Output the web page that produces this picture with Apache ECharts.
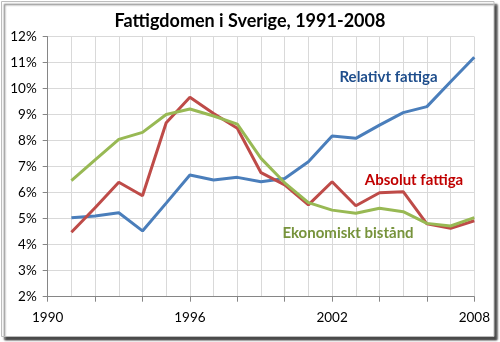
<!DOCTYPE html>
<html>
<head>
<meta charset="utf-8">
<script src="https://cdn.jsdelivr.net/npm/echarts@6/dist/echarts.min.js"></script>
<style>
html,body{margin:0;padding:0;background:#fff;}
#c{width:500px;height:342px;}
</style>
</head>
<body>
<div id="c"></div>
<script>
const years = [1991,1992,1993,1994,1995,1996,1997,1998,1999,2000,2001,2002,2003,2004,2005,2006,2007,2008];
const relativtFattiga = [5.04,5.10,5.23,4.53,5.60,6.68,6.49,6.59,6.42,6.55,7.19,8.18,8.09,8.60,9.08,9.31,10.27,11.21];
const absolutFattiga = [4.48,5.42,6.40,5.88,8.69,9.67,9.05,8.48,6.77,6.30,5.53,6.42,5.50,6.00,6.04,4.80,4.63,4.92];
const ekonomisktBistand = [6.46,7.26,8.05,8.32,9.01,9.22,8.95,8.64,7.32,6.38,5.62,5.33,5.21,5.40,5.27,4.82,4.72,5.04];
const xTickLabels = [1990,1996,2002,2008];
const title = 'Fattigdomen i Sverige, 1991-2008';

const pair = arr => years.map((y,i)=>[y,arr[i]]);
const font = 'Lato, "Liberation Sans", sans-serif';

const chart = echarts.init(document.getElementById('c'), null, {renderer:'canvas'});
chart.setOption({
  animation:false,
  backgroundColor:'transparent',
  title:{
    text:title, left:'center', top:7,
    textStyle:{fontFamily:font, fontSize:18, fontWeight:'bold', color:'#000'}
  },
  grid:{left:47.7, right:25.7, top:36.7, bottom:45.3, containLabel:false},
  xAxis:{
    type:'value', min:1990, max:2008, interval:2,
    axisLine:{show:true, lineStyle:{color:'#868686', width:1}},
    axisTick:{show:true, length:5, lineStyle:{color:'#868686'}},
    axisLabel:{
      margin:14, color:'#000', fontFamily:font, fontSize:13.5,
      formatter: v => xTickLabels.includes(v) ? String(v) : ''
    },
    splitLine:{show:true, lineStyle:{color:'#d9d9d9', width:1}},
    minorTick:{show:false, splitNumber:2},
    minorSplitLine:{show:true, lineStyle:{color:'#d9d9d9', width:1}}
  },
  yAxis:{
    type:'value', min:2, max:12, interval:1,
    axisLine:{show:true, lineStyle:{color:'#868686', width:1}},
    axisTick:{show:true, length:5, lineStyle:{color:'#868686'}},
    axisLabel:{margin:11, color:'#000', fontFamily:font, fontSize:13.5, formatter:'{value}%'},
    splitLine:{show:true, lineStyle:{color:'#d9d9d9', width:1}}
  },
  series:[
    {name:'Relativt fattiga', type:'line', data:pair(relativtFattiga), showSymbol:false, symbol:'none',
     lineStyle:{color:'#4a7ebb', width:3}, z:3},
    {name:'Absolut fattiga', type:'line', data:pair(absolutFattiga), showSymbol:false, symbol:'none',
     lineStyle:{color:'#be4b48', width:3}, z:4},
    {name:'Ekonomiskt bistånd', type:'line', data:pair(ekonomisktBistand), showSymbol:false, symbol:'none',
     lineStyle:{color:'#98b954', width:3}, z:5}
  ],
  graphic:[
    {type:'rect', z:-10, silent:true,
     shape:{x:1.5, y:1.5, width:492.5, height:335},
     style:{fill:'#fff', stroke:'#bdbdbd', lineWidth:1,
            shadowBlur:2, shadowOffsetX:3, shadowOffsetY:3, shadowColor:'rgba(0,0,0,0.7)'}},
    {type:'text', z:100, x:388.5, y:76.7,
     style:{text:'Relativt fattiga', fill:'#1f4e8c', font:'bold 15px '+font, align:'center', verticalAlign:'middle'}},
    {type:'text', z:100, x:414, y:180,
     style:{text:'Absolut fattiga', fill:'#c00000', font:'bold 15px '+font, align:'center', verticalAlign:'middle'}},
    {type:'text', z:100, x:348, y:233,
     style:{text:'Ekonomiskt bistånd', fill:'#77933c', font:'bold 15px '+font, align:'center', verticalAlign:'middle'}}
  ]
});
</script>
</body>
</html>
